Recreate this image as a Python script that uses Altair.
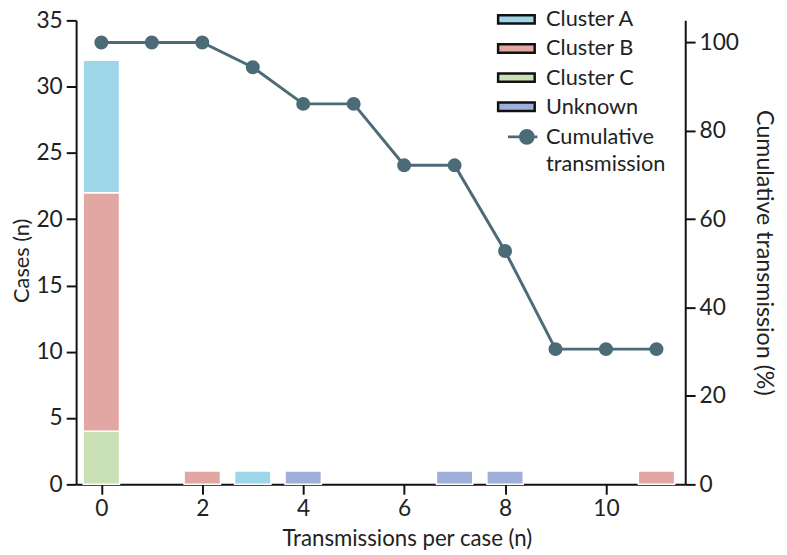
import altair as alt
import pandas as pd

# ---- data ----
x_vals = list(range(12))
cumulative = [100, 100, 100, 94.4, 86.1, 86.1, 72.2, 72.2, 52.8, 30.6, 30.6, 30.6]

bar_x = [0, 0, 0, 2, 3, 4, 7, 8, 11]
bar_group = ["Cluster C", "Cluster B", "Cluster A", "Cluster B", "Cluster A",
             "Unknown", "Unknown", "Unknown", "Cluster B"]
bar_cases = [4, 18, 10, 1, 1, 1, 1, 1, 1]

groups = ["Cluster A", "Cluster B", "Cluster C", "Unknown"]
group_colors = ["#9DD6E8", "#E2A7A3", "#C9E0B4", "#A0AFD9"]
stack_rank = {"Cluster C": 0, "Cluster B": 1, "Cluster A": 2, "Unknown": 3}
line_label_1 = "Cumulative"
line_label_2 = "transmission"
line_color = "#4B6B76"

FONT = "Lato"
TICK_FS = 23
TEXT_FS = 22

bars_df = pd.DataFrame({"x": bar_x, "group": bar_group, "cases": bar_cases})
bars_df["rank"] = bars_df["group"].map(stack_rank)
line_df = pd.DataFrame({"x": x_vals, "cum": cumulative,
                        "s1": line_label_1, "s2": line_label_2})

x_scale = alt.Scale(domain=[-0.5, 11.57], nice=False, zero=False)
x_axis = alt.Axis(values=[0, 2, 4, 6, 8, 10], title="Transmissions per case (n)",
                  titlePadding=7, titleX=335, titleFontSize=22.5)

legend_common = dict(title=None, orient="none", legendX=435, padding=0,
                     labelFontSize=TEXT_FS, labelFont=FONT, labelColor="#222",
                     labelOffset=19, symbolSize=289)

bars = alt.Chart(bars_df).transform_stack(
    stack="cases", groupby=["x"], as_=["y0", "y1"],
    sort=[alt.SortField("rank", order="ascending")]
).transform_calculate(
    x0="datum.x - 0.36", x1="datum.x + 0.36"
).mark_bar(stroke="white", strokeWidth=1.5).encode(
    x=alt.X("x0:Q", scale=x_scale, axis=x_axis),
    x2="x1:Q",
    y=alt.Y("y0:Q", scale=alt.Scale(domain=[0, 35], nice=False),
            axis=alt.Axis(values=[0, 5, 10, 15, 20, 25, 30, 35], title="Cases (n)",
                          titlePadding=3, titleY=243)),
    y2="y1:Q",
    fill=alt.Fill("group:N", scale=alt.Scale(domain=groups, range=group_colors),
                  legend=alt.Legend(legendY=-12, rowPadding=7.5,
                                    symbolType="M-2.18,-0.5H2.18V0.5H-2.18Z",
                                    symbolStrokeColor="#111", symbolStrokeWidth=2.5,
                                    symbolOpacity=1, **legend_common)),
)

right_axis = alt.Axis(orient="right", values=[0, 20, 40, 60, 80, 100],
                      title="Cumulative transmission (%)", titlePadding=13,
                      titleFontSize=23.5)
y_right = alt.Scale(domain=[0, 105], nice=False)

line = alt.Chart(line_df).mark_line(strokeWidth=3).encode(
    x=alt.X("x:Q", scale=x_scale, axis=x_axis),
    y=alt.Y("cum:Q", scale=y_right, axis=right_axis),
    stroke=alt.Stroke("s1:N",
                      scale=alt.Scale(domain=[line_label_1], range=[line_color]),
                      legend=alt.Legend(legendY=107,
                                        symbolType="M-1,0H2.5M0.48,0A0.76,0.76 0 1,0 2.0,0A0.76,0.76 0 1,0 0.48,0Z",
                                        symbolStrokeWidth=3, symbolFillColor=line_color,
                                        **legend_common)),
)

points = alt.Chart(line_df).mark_point(size=200, opacity=1, filled=True,
                                       color=line_color).encode(
    x=alt.X("x:Q", scale=x_scale, axis=x_axis),
    y=alt.Y("cum:Q", scale=y_right, axis=right_axis),
    shape=alt.Shape("s2:N",
                    scale=alt.Scale(domain=[line_label_2], range=["circle"]),
                    legend=alt.Legend(legendY=135, symbolOpacity=0, **legend_common)),
)

chart = alt.layer(bars, alt.layer(line, points)).resolve_scale(
    y="independent", fill="independent", stroke="independent", shape="independent"
).properties(
    width=617, height=470,
    autosize=alt.AutoSizeParams(type="none"),
    padding={"left": 69, "top": 9, "right": 95, "bottom": 66},
).configure_view(stroke=None).configure_axis(
    grid=False, domainColor="#111", domainWidth=2, tickColor="#111", tickWidth=2,
    tickSize=10, labelFontSize=TICK_FS, labelFont=FONT, labelColor="#222", labelPadding=4,
    titleFontSize=TEXT_FS, titleFont=FONT, titleColor="#222", titleFontWeight="normal",
)

chart.save("out.html", embed_options={"renderer": "svg", "actions": False})
